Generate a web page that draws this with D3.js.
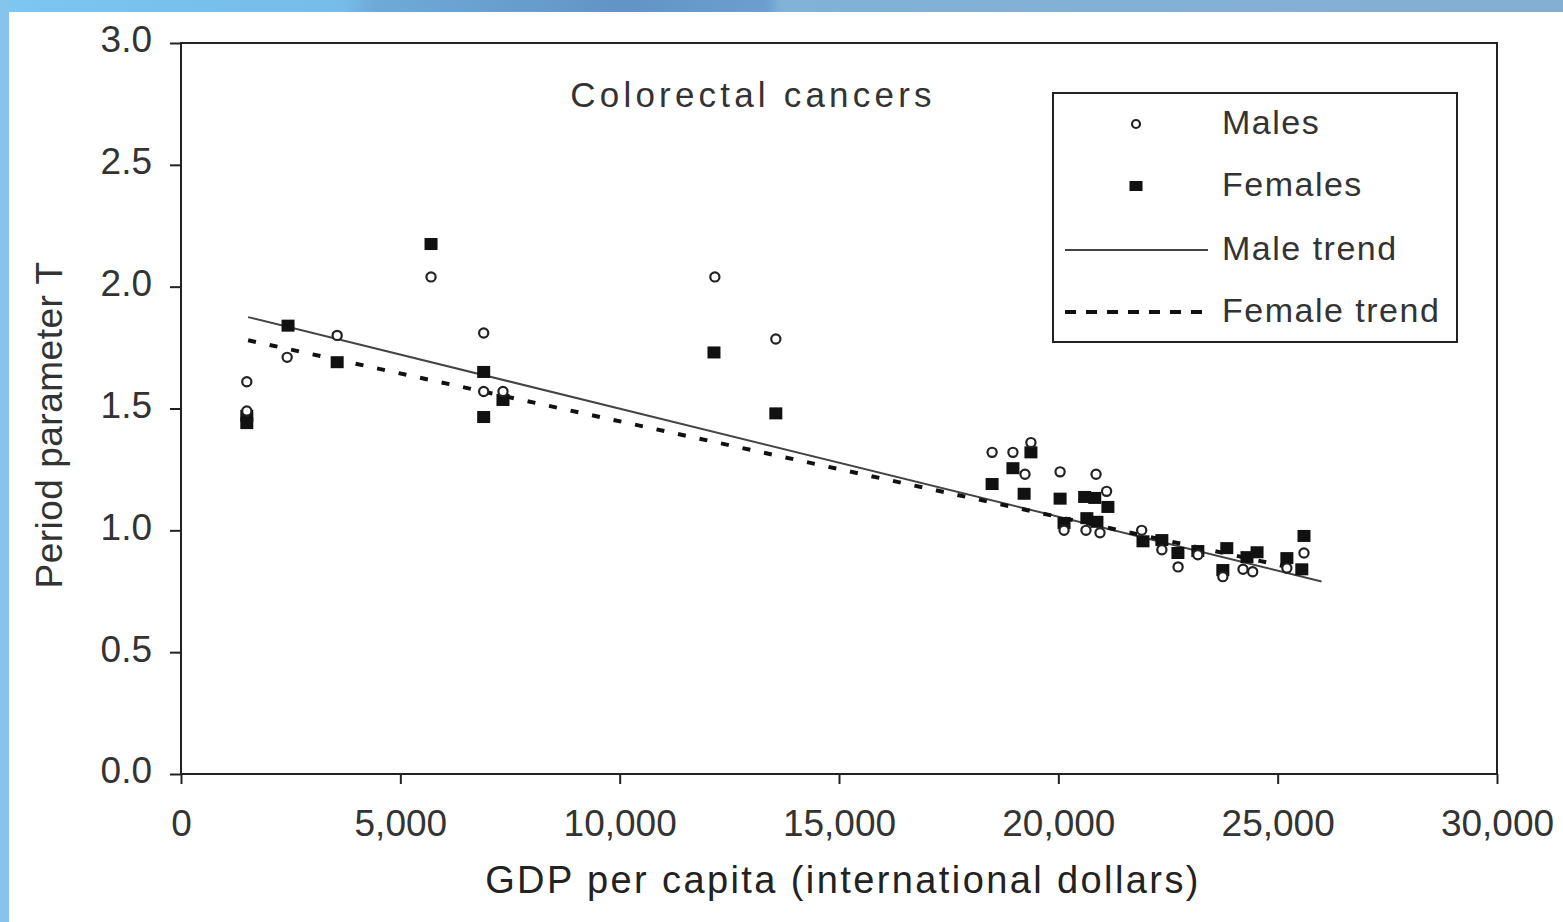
<!DOCTYPE html>
<html>
<head>
<meta charset="utf-8">
<script src="https://d3js.org/d3.v7.min.js"></script>
<style>
  body { margin: 0; background: #fff; }
  svg { display: block; font-family: "Liberation Sans", Arial, sans-serif; }
  .axis-frame { fill: none; stroke: #222; stroke-width: 2; }
  .tick-label { font-size: 37px; fill: #333; }
  .male_pt { fill: #fff; stroke: #222; stroke-width: 2.2; }
  .female_pt { fill: #111; }
  .male_trend { fill: none; stroke: #444; stroke-width: 2; }
  .female_trend { fill: none; stroke: #111; stroke-width: 4; stroke-dasharray: 8,14; }
  .legend-text { font-size: 34px; letter-spacing: 1.5px; fill: #333; }
</style>
</head>
<body>
<svg id="chart" width="1563" height="922"></svg>
<script>
  // data
  const maleGdp = [1500, 1500, 2420, 3560, 5700, 6900, 6900, 7340, 12170, 13560,
    18490, 18965, 19375, 19240, 20040, 20860, 21100, 20130, 20630, 20950,
    21900, 22360, 22730, 23180, 23750, 24210, 24430, 25210, 25600]
  const maleT = [1.61, 1.49, 1.71, 1.80, 2.04, 1.81, 1.57, 1.57, 2.04, 1.785,
    1.32, 1.32, 1.36, 1.23, 1.24, 1.23, 1.16, 1.00, 1.00, 0.99,
    1.00, 0.92, 0.85, 0.90, 0.81, 0.84, 0.83, 0.845, 0.907]
  const femaleGdp = [1500, 1500, 2440, 3560, 5700, 6900, 6900, 7340, 12150, 13560,
    18490, 18965, 19375, 19220, 20040, 20600, 20830, 21130, 20130, 20650, 20880,
    21930, 22360, 22726, 23180, 23840, 23750, 24300, 24530, 25210, 25600, 25550]
  const femaleT = [1.47, 1.44, 1.84, 1.69, 2.175, 1.65, 1.465, 1.535, 1.73, 1.48,
    1.19, 1.255, 1.32, 1.15, 1.13, 1.137, 1.133, 1.096, 1.03, 1.05, 1.035,
    0.955, 0.96, 0.907, 0.915, 0.927, 0.837, 0.89, 0.91, 0.886, 0.977, 0.84]
  const maleTrendGdp = [1530, 26000]
  const maleTrendT = [1.875, 0.79]
  const femaleTrendGdp = [1530, 25600]
  const femaleTrendT = [1.78, 0.835]
  const xTicks = [0, 5000, 10000, 15000, 20000, 25000, 30000]
  const yTicks = [0, 0.5, 1.0, 1.5, 2.0, 2.5, 3.0]
  const legendLabels = ["Males", "Females", "Male trend", "Female trend"]

  var svg = d3.select("#chart")
  const margin = {top: 43, right: 66, bottom: 148, left: 181}
  const width = svg.attr("width") - margin.left - margin.right
  const height = svg.attr("height") - margin.top - margin.bottom

  // background: blue strips on top and left like the slide
  var grad = svg.append("defs").append("linearGradient").attr("id", "topband")
  grad.append("stop").attr("offset", "0%").attr("stop-color", "#7cc6f2")
  grad.append("stop").attr("offset", "22%").attr("stop-color", "#76bce8")
  grad.append("stop").attr("offset", "24%").attr("stop-color", "#6eaad8")
  grad.append("stop").attr("offset", "40%").attr("stop-color", "#6294c6")
  grad.append("stop").attr("offset", "49%").attr("stop-color", "#6c9ecf")
  grad.append("stop").attr("offset", "50%").attr("stop-color", "#82b2d8")
  grad.append("stop").attr("offset", "100%").attr("stop-color", "#84aed2")
  svg.append("rect").attr("width", 1563).attr("height", 922).attr("fill", "#fff")
  svg.append("rect").attr("width", 1563).attr("height", 12).attr("fill", "url(#topband)")
  svg.append("rect").attr("width", 9).attr("height", 922).attr("fill", "#86c4ee")

  const x = d3.scaleLinear().domain([0, 30000]).range([0, width])
  const y = d3.scaleLinear().domain([0, 3]).range([height, 0])
  var g = svg.append("g").attr("transform", "translate(" + margin.left + "," + margin.top + ")")

  // frame
  g.append("rect").attr("class", "axis-frame").attr("width", width).attr("height", height)

  // x axis
  var xAxis = g.append("g").attr("transform", "translate(0," + height + ")")
    .call(d3.axisBottom(x).tickValues(xTicks).tickFormat(d3.format(",")).tickSize(10).tickPadding(26))
  xAxis.select(".domain").remove()
  xAxis.selectAll("line").attr("stroke", "#222").attr("stroke-width", 2)
  xAxis.selectAll("text").attr("class", "tick-label").attr("font-family", null).attr("font-size", null)
    .attr("fill", null)

  // y axis
  var yAxis = g.append("g")
    .call(d3.axisLeft(y).tickValues(yTicks).tickFormat(d3.format(".1f")).tickSize(11).tickPadding(18))
  yAxis.select(".domain").remove()
  yAxis.selectAll("line").attr("stroke", "#222").attr("stroke-width", 2)
  yAxis.selectAll("text").attr("class", "tick-label").attr("font-family", null).attr("font-size", null)
    .attr("fill", null).attr("dy", "0.24em")

  // axis titles
  svg.append("text").attr("x", 843).attr("y", 893).attr("text-anchor", "middle")
    .attr("font-size", 38).attr("letter-spacing", 2.4).attr("fill", "#222")
    .text("GDP per capita (international dollars)")
  svg.append("text").attr("transform", "translate(62,425) rotate(-90)").attr("text-anchor", "middle")
    .attr("font-size", 37).attr("letter-spacing", 0.5).attr("fill", "#333")
    .text("Period parameter T")
  svg.append("text").attr("x", 753).attr("y", 107).attr("text-anchor", "middle")
    .attr("font-size", 35).attr("letter-spacing", 4.2).attr("fill", "#333")
    .text("Colorectal cancers")

  // trend lines
  const line = d3.line().x(d => x(d[0])).y(d => y(d[1]))
  g.append("path").datum(d3.zip(maleTrendGdp, maleTrendT)).attr("class", "male_trend").attr("d", line)
  g.append("path").datum(d3.zip(femaleTrendGdp, femaleTrendT)).attr("class", "female_trend").attr("d", line)

  // points
  g.selectAll(".female_pt").data(d3.zip(femaleGdp, femaleT)).enter().append("rect")
    .attr("class", "female_pt")
    .attr("x", d => x(d[0]) - 6.5).attr("y", d => y(d[1]) - 6)
    .attr("width", 13).attr("height", 12)
  g.selectAll(".male_pt").data(d3.zip(maleGdp, maleT)).enter().append("circle")
    .attr("class", "male_pt")
    .attr("cx", d => x(d[0])).attr("cy", d => y(d[1])).attr("r", 4.6)

  // legend
  var lg = svg.append("g")
  lg.append("rect").attr("x", 1053).attr("y", 93).attr("width", 404).attr("height", 249)
    .attr("fill", "#fff").attr("stroke", "#222").attr("stroke-width", 2)
  const rowY = [124, 186, 250, 312]
  lg.append("circle").attr("class", "male_pt").attr("cx", 1136).attr("cy", rowY[0]).attr("r", 4)
  lg.append("rect").attr("class", "female_pt").attr("x", 1129.5).attr("y", rowY[1] - 5).attr("width", 13).attr("height", 10)
  lg.append("line").attr("class", "male_trend").attr("x1", 1065).attr("x2", 1208).attr("y1", rowY[2]).attr("y2", rowY[2])
  lg.append("line").attr("class", "female_trend").attr("x1", 1065).attr("x2", 1208).attr("y1", rowY[3]).attr("y2", rowY[3])
    .style("stroke-dasharray", "11,10")
  lg.selectAll(".legend-text").data(legendLabels).enter().append("text")
    .attr("class", "legend-text")
    .attr("x", 1222).attr("y", (d, i) => rowY[i] + 10)
    .text(d => d)
</script>
</body>
</html>
